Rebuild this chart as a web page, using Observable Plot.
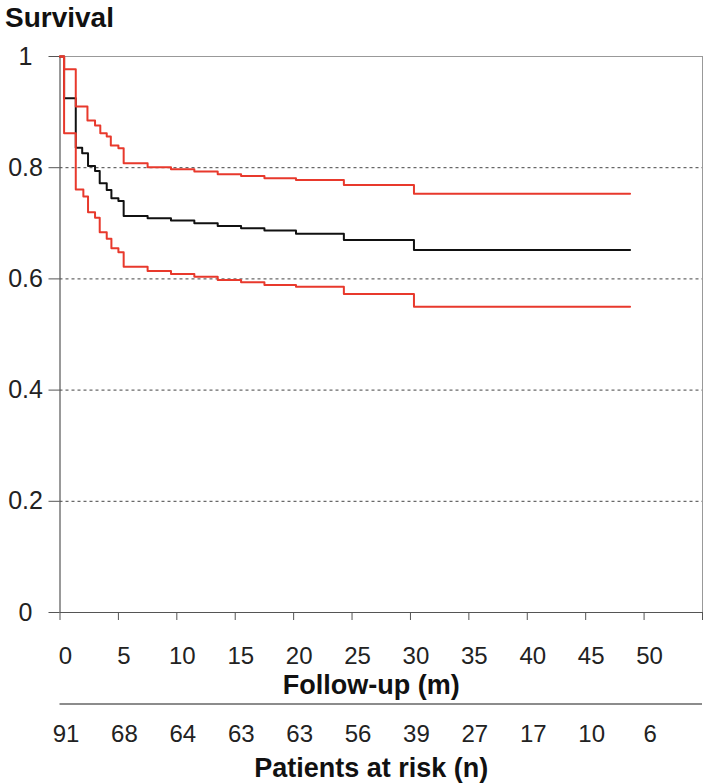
<!DOCTYPE html>
<html>
<head>
<meta charset="utf-8">
<script src="https://cdn.jsdelivr.net/npm/d3@7"></script>
<script src="https://cdn.jsdelivr.net/npm/@observablehq/plot@0.6"></script>
<style>
  html, body { margin: 0; padding: 0; background: #fff; }
  #chart svg { display: block; font-family: "Liberation Sans", Arial, sans-serif; }
</style>
</head>
<body>
<div id="chart"></div>
<script>
// Kaplan-Meier estimate (months, survival)
const kmTime = [0, 0.35, 1.35, 1.9, 2.4, 3.0, 3.4, 4.0, 4.4, 5.0, 5.45, 7.5, 9.5, 11.5, 13.5, 15.5, 17.5, 20.2, 24.3, 30.3, 48.8];
const kmSurv = [1.0, 0.925, 0.836, 0.826, 0.803, 0.794, 0.772, 0.760, 0.745, 0.740, 0.713, 0.709, 0.705, 0.700, 0.695, 0.691, 0.687, 0.681, 0.670, 0.652, 0.652];
// Upper confidence bound
const upperTime = [0, 0.35, 1.35, 2.35, 3.0, 3.45, 4.0, 4.35, 5.0, 5.45, 7.5, 9.5, 11.5, 13.5, 15.5, 17.5, 20.2, 24.3, 30.3, 48.8];
const upperSurv = [1.0, 0.977, 0.910, 0.885, 0.876, 0.862, 0.856, 0.840, 0.835, 0.808, 0.801, 0.797, 0.793, 0.788, 0.785, 0.781, 0.778, 0.769, 0.753, 0.753];
// Lower confidence bound
const lowerTime = [0, 0.35, 1.35, 2.0, 2.4, 3.0, 3.4, 4.0, 4.4, 5.0, 5.45, 7.5, 9.5, 11.5, 13.5, 15.5, 17.5, 20.2, 24.3, 30.3, 48.8];
const lowerSurv = [1.0, 0.862, 0.761, 0.748, 0.720, 0.710, 0.684, 0.672, 0.655, 0.648, 0.622, 0.614, 0.609, 0.604, 0.598, 0.594, 0.589, 0.586, 0.573, 0.550, 0.550];

// Axis ticks and patients at risk
const xTicks = [0, 5, 10, 15, 20, 25, 30, 35, 40, 45, 50, 55];
const yTicks = [0, 0.2, 0.4, 0.6, 0.8, 1];
const gridY = [0.2, 0.4, 0.6, 0.8];
const riskTime = [0, 5, 10, 15, 20, 25, 30, 35, 40, 45, 50];
const riskCount = [91, 68, 64, 63, 63, 56, 39, 27, 17, 10, 6];

const toRows = (ts, ss) => ts.map((t, i) => ({t, s: ss[i]}));
const km = toRows(kmTime, kmSurv);
const upper = toRows(upperTime, upperSurv);
const lower = toRows(lowerTime, lowerSurv);
const risk = riskTime.map((t, i) => ({t, n: riskCount[i]}));

const RED = "#e8392c";
const FONT = 24;
const BOLD = 27;

const chart = Plot.plot({
  width: 714,
  height: 784,
  marginTop: 56,
  marginBottom: 172,
  marginLeft: 59.5,
  marginRight: 12,
  style: {fontFamily: "'Liberation Sans', Arial, sans-serif", color: "#222", overflow: "visible"},
  x: {domain: [0, 55]},
  y: {domain: [0, 1]},
  marks: [
    Plot.ruleY(gridY, {stroke: "#444", strokeDasharray: "3,3", strokeWidth: 1}),
    Plot.ruleY([1], {stroke: "#999", strokeWidth: 1}),
    Plot.ruleX([55], {stroke: "#999", strokeWidth: 1}),
    Plot.axisY({ticks: yTicks, tickSize: 11, tickPadding: 23.5, textAnchor: "middle",
      tickFormat: d => String(d), fontSize: 25, label: null, stroke: "#555"}),
    Plot.axisX({ticks: xTicks, tickSize: 8, fill: "none", label: null, stroke: "#555"}),
    Plot.axisX({ticks: xTicks, tickSize: 0, tickPadding: 34, dx: 5.5,
      tickFormat: d => d === 55 ? "" : String(d), fontSize: FONT, label: null}),
    Plot.ruleX([0], {stroke: "#555", strokeWidth: 1.2}),
    Plot.ruleY([0], {stroke: "#555", strokeWidth: 1.2}),
    Plot.line(km, {x: "t", y: "s", curve: "step-after", stroke: "#111", strokeWidth: 2}),
    Plot.line(upper, {x: "t", y: "s", curve: "step-after", stroke: RED, strokeWidth: 2}),
    Plot.line(lower, {x: "t", y: "s", curve: "step-after", stroke: RED, strokeWidth: 2}),
    Plot.text(["Follow-up (m)"], {frameAnchor: "bottom", lineAnchor: "middle", dx: -10, dy: 73, fontSize: BOLD, fontWeight: "bold", fill: "#111"}),
    Plot.ruleY([0], {dy: 91.5, stroke: "#666", strokeWidth: 1.5}),
    Plot.text(risk, {x: "t", text: "n", frameAnchor: "bottom", lineAnchor: "middle", dy: 122, dx: 6, fontSize: FONT, fill: "#222"}),
    Plot.text(["Patients at risk (n)"], {frameAnchor: "bottom", lineAnchor: "middle", dx: -10, dy: 156, fontSize: BOLD, fontWeight: "bold", fill: "#111"}),
    Plot.text(["Survival"], {frameAnchor: "top-left", lineAnchor: "middle", dx: -55, dy: -38, textAnchor: "start", fontSize: 28, fontWeight: "bold", fill: "#111"})
  ]
});
document.getElementById("chart").appendChild(chart);
</script>
</body>
</html>
